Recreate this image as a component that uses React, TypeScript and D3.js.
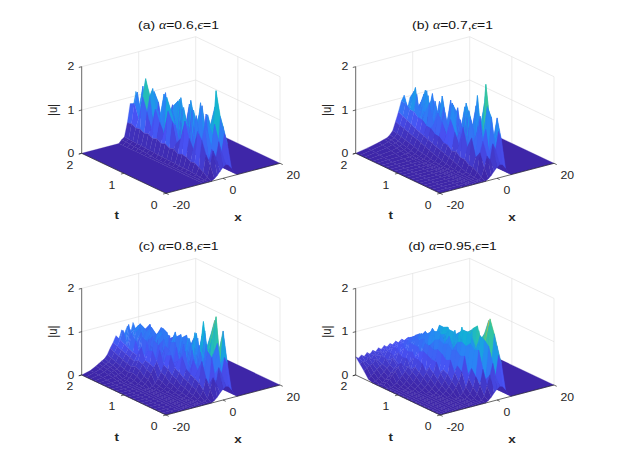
import React from "react";
import * as d3 from "d3";

// ---------- data ----------
const tGrid = [0, 0.1, 0.2, 0.3, 0.4, 0.5, 0.6, 0.7, 0.8, 0.9, 1.0, 1.1, 1.2, 1.3, 1.4, 1.5, 1.6, 1.7, 1.8, 1.9, 2.0];
const xTickVals = [-20, 0, 20];
const tTickVals = [0, 1, 2];
const zTickVals = [0, 1, 2];
const panelTags = ["(a)", "(b)", "(c)", "(d)"];
const alphaVals = ["0.6", "0.7", "0.8", "0.95"];
const epsVals = ["1", "1", "1", "1"];

// (a) alpha = 0.6   (rows: t = 0 ... 2, columns: xA)
const xA = [-7, -6, -5, -4, -3, -2, -1, 0, 1, 2, 3, 4, 5];
const uA = [
  [0, 0, 0, 0, 0.04, 0.1, 0.18, 0.25, 0.3, 0.28, 0.18, 0.06, 0],
  [0, 0, 0, 0.05, 0.3, 0.62, 0.45, 0.8, 0.55, 0.95, 0.7, 0.15, 0],
  [0, 0, 0.02, 0.12, 0.5, 0.35, 0.6, 1.15, 0.4, 1.3, 1.05, 0.2, 0],
  [0, 0, 0.03, 0.18, 0.8, 1.1, 0.95, 0.3, 0.85, 1.85, 0.6, 0.18, 0],
  [0, 0, 0.04, 0.24, 0.95, 0.5, 0.25, 1.3, 1.0, 0.45, 1.4, 0.15, 0],
  [0, 0, 0.05, 0.22, 0.5, 1.25, 0.8, 0.55, 0.35, 1.2, 0.95, 0.12, 0],
  [0, 0, 0.05, 0.28, 0.7, 0.3, 1.1, 0.9, 1.45, 0.5, 0.7, 0.1, 0],
  [0, 0, 0.05, 0.3, 1.05, 0.9, 0.4, 1.25, 0.6, 1.1, 1.3, 0.1, 0],
  [0, 0, 0.06, 0.26, 0.6, 1.3, 0.7, 0.25, 1.2, 0.8, 0.5, 0.08, 0],
  [0, 0, 0.06, 0.33, 0.45, 0.45, 1.2, 0.85, 0.4, 1.35, 1.0, 0.08, 0],
  [0, 0, 0.06, 0.3, 0.9, 0.8, 0.3, 1.4, 0.9, 0.35, 1.2, 0.07, 0],
  [0, 0, 0.07, 0.36, 1.1, 1.1, 0.95, 0.5, 1.3, 0.75, 0.6, 0.06, 0],
  [0, 0, 0.07, 0.32, 0.55, 1.35, 0.45, 1.0, 0.55, 1.2, 0.9, 0.06, 0],
  [0, 0.02, 0.08, 0.38, 0.75, 0.5, 1.2, 0.35, 0.8, 1.05, 0.4, 0.05, 0],
  [0, 0.03, 0.08, 0.34, 1.0, 0.95, 0.6, 1.3, 1.1, 0.45, 1.0, 0.05, 0],
  [0, 0.04, 0.09, 0.4, 0.5, 0.4, 0.85, 0.7, 0.3, 1.25, 0.65, 0.05, 0],
  [0, 0.05, 0.1, 0.37, 0.85, 1.2, 1.35, 0.45, 1.0, 0.6, 0.85, 0.05, 0],
  [0, 0.05, 0.1, 0.42, 1.15, 1.55, 0.5, 0.9, 1.2, 0.95, 0.45, 0.04, 0],
  [0, 0.06, 0.11, 0.4, 0.6, 0.6, 1.05, 0.4, 0.75, 1.1, 0.7, 0.04, 0],
  [0, 0.07, 0.11, 0.45, 0.9, 1.15, 0.7, 1.25, 0.5, 0.8, 0.55, 0.04, 0],
  [0, 0.07, 0.12, 0.43, 0.85, 0.75, 1.1, 0.65, 0.95, 0.6, 0.5, 0.04, 0],
];

// (b) alpha = 0.7
const xB = [-20, -16, -12, -10, -9, -8, -7, -6, -5, -4, -3, -2, -1, 0, 1, 2, 3, 4, 5];
const uB = [
  [0, 0, 0, 0, 0, 0, 0, 0, 0, 0, 0.04, 0.1, 0.18, 0.25, 0.3, 0.28, 0.18, 0.06, 0],
  [0, 0, 0, 0, 0, 0, 0, 0, 0, 0.05, 0.25, 0.5, 0.4, 0.75, 0.6, 1.0, 0.8, 0.18, 0],
  [0, 0, 0, 0, 0, 0, 0, 0, 0.02, 0.12, 0.55, 0.8, 1.05, 0.5, 1.3, 0.7, 1.25, 0.22, 0],
  [0, 0, 0, 0, 0, 0, 0, 0, 0.03, 0.18, 0.4, 1.1, 0.6, 0.35, 1.5, 1.1, 0.65, 0.2, 0],
  [0, 0, 0, 0, 0, 0, 0, 0.01, 0.05, 0.2, 0.8, 0.7, 0.3, 1.25, 0.8, 1.95, 1.3, 0.18, 0],
  [0, 0, 0, 0, 0, 0, 0, 0.02, 0.08, 0.27, 0.55, 1.2, 0.95, 0.45, 1.1, 0.6, 1.45, 0.15, 0],
  [0, 0, 0, 0, 0, 0, 0.01, 0.03, 0.12, 0.28, 0.95, 0.45, 1.3, 0.8, 0.4, 1.6, 0.85, 0.12, 0],
  [0, 0, 0, 0, 0, 0, 0.01, 0.05, 0.16, 0.36, 0.5, 0.9, 0.45, 1.2, 1.05, 0.5, 1.3, 0.1, 0],
  [0, 0, 0, 0, 0, 0, 0.02, 0.07, 0.2, 0.33, 0.75, 0.6, 1.0, 0.35, 1.35, 0.9, 0.7, 0.1, 0],
  [0, 0, 0, 0, 0, 0.01, 0.03, 0.1, 0.24, 0.42, 1.0, 1.3, 0.55, 0.95, 0.5, 1.2, 1.05, 0.08, 0],
  [0, 0, 0, 0, 0, 0.01, 0.04, 0.13, 0.27, 0.43, 0.6, 0.7, 1.25, 0.4, 1.15, 0.6, 0.85, 0.08, 0],
  [0, 0, 0, 0, 0, 0.02, 0.06, 0.16, 0.3, 0.52, 0.85, 0.95, 0.3, 1.3, 0.8, 1.0, 0.5, 0.07, 0],
  [0, 0, 0, 0, 0.01, 0.03, 0.08, 0.2, 0.34, 0.53, 1.0, 0.5, 1.1, 0.65, 0.45, 1.15, 0.75, 0.06, 0],
  [0, 0, 0, 0.01, 0.02, 0.04, 0.1, 0.24, 0.38, 0.62, 0.7, 1.0, 0.75, 1.3, 0.9, 0.5, 0.95, 0.06, 0],
  [0, 0, 0.01, 0.02, 0.03, 0.06, 0.13, 0.28, 0.42, 0.63, 1.15, 0.55, 1.15, 0.4, 1.0, 0.85, 0.55, 0.05, 0],
  [0, 0.01, 0.02, 0.04, 0.05, 0.08, 0.16, 0.32, 0.46, 0.72, 0.9, 1.25, 0.5, 1.1, 0.6, 1.05, 0.7, 0.05, 0],
  [0, 0.02, 0.04, 0.06, 0.08, 0.11, 0.19, 0.35, 0.5, 0.73, 0.6, 0.85, 1.3, 0.55, 1.2, 0.45, 0.6, 0.05, 0],
  [0, 0.03, 0.06, 0.09, 0.11, 0.14, 0.22, 0.38, 0.55, 0.82, 1.2, 0.5, 0.9, 1.25, 0.7, 0.95, 0.5, 0.04, 0],
  [0, 0.04, 0.08, 0.12, 0.14, 0.17, 0.25, 0.42, 0.6, 0.83, 1.05, 1.3, 0.6, 0.85, 1.1, 0.55, 0.65, 0.04, 0],
  [0, 0.05, 0.1, 0.14, 0.16, 0.2, 0.28, 0.45, 0.65, 0.92, 0.75, 0.9, 1.15, 0.6, 0.8, 0.9, 0.45, 0.04, 0],
  [0, 0.05, 0.11, 0.15, 0.17, 0.22, 0.3, 0.5, 0.7, 0.93, 1.05, 0.7, 0.95, 0.8, 0.6, 0.7, 0.5, 0.04, 0],
];

// (c) alpha = 0.8  (rows are right-aligned to the x columns; missing leading values are 0)
const xC = [-20, -17, -15, -14, -13, -12, -11, -10, -9, -8, -7, -6, -5, -4, -3, -2, -1, 0, 1, 2, 3, 4, 5];
const uC = [
  [0.04, 0.1, 0.18, 0.25, 0.3, 0.28, 0.18, 0.06, 0],
  [0.02, 0.06, 0.25, 0.5, 0.35, 0.7, 0.55, 0.9, 0.75, 0.2, 0],
  [0.02, 0.08, 0.2, 0.45, 0.3, 0.9, 0.5, 1.2, 0.7, 1.45, 0.25, 0],
  [0.02, 0.07, 0.18, 0.32, 0.8, 0.45, 1.0, 0.35, 0.9, 1.75, 0.95, 0.22, 0],
  [0.03, 0.1, 0.22, 0.38, 0.55, 0.95, 0.4, 1.1, 0.6, 1.2, 1.6, 0.2, 0],
  [0.02, 0.06, 0.15, 0.28, 0.42, 0.75, 0.5, 1.05, 0.45, 1.35, 0.7, 1.2, 0.18, 0],
  [0.03, 0.08, 0.18, 0.32, 0.5, 0.4, 0.9, 0.6, 1.15, 0.5, 1.5, 0.85, 0.15, 0],
  [0.02, 0.06, 0.14, 0.26, 0.4, 0.75, 0.85, 0.4, 1.0, 0.55, 1.2, 0.65, 1.1, 0.12, 0],
  [0.03, 0.08, 0.17, 0.3, 0.45, 0.6, 0.35, 0.95, 0.5, 1.05, 0.8, 1.15, 0.6, 0.1, 0],
  [0.02, 0.06, 0.14, 0.26, 0.4, 0.7, 0.5, 0.85, 0.45, 0.95, 0.6, 1.0, 0.5, 0.95, 0.1, 0],
  [0.03, 0.08, 0.17, 0.3, 0.45, 0.65, 0.75, 0.4, 0.9, 0.5, 1.05, 0.45, 1.0, 0.7, 0.08, 0],
  [0.02, 0.06, 0.14, 0.26, 0.38, 0.5, 0.75, 0.3, 0.8, 0.55, 0.85, 0.4, 0.95, 0.65, 0.9, 0.55, 0.08, 0],
  [0.03, 0.08, 0.17, 0.3, 0.42, 0.7, 0.45, 0.8, 0.5, 0.9, 0.35, 0.95, 0.6, 1.0, 0.5, 0.8, 0.07, 0],
  [0.02, 0.06, 0.14, 0.26, 0.38, 0.45, 0.65, 0.5, 0.85, 0.4, 0.75, 0.95, 0.5, 0.9, 0.7, 0.85, 0.6, 0.07, 0],
  [0.03, 0.08, 0.17, 0.3, 0.42, 0.7, 0.4, 0.8, 0.55, 0.9, 0.45, 0.8, 0.95, 0.55, 0.9, 0.45, 0.75, 0.06, 0],
  [0, 0, 0.01, 0.02, 0.03, 0.06, 0.13, 0.25, 0.36, 0.48, 0.5, 0.85, 0.4, 0.75, 0.9, 0.5, 0.85, 0.6, 0.95, 0.55, 0.65, 0.06, 0],
  [0, 0.02, 0.04, 0.06, 0.08, 0.1, 0.16, 0.28, 0.4, 0.5, 0.75, 0.55, 0.9, 0.45, 0.7, 0.95, 0.5, 0.8, 0.65, 0.9, 0.5, 0.05, 0],
  [0, 0.03, 0.06, 0.09, 0.12, 0.14, 0.2, 0.32, 0.44, 0.55, 0.85, 0.5, 0.65, 0.95, 0.5, 0.8, 0.7, 0.9, 0.55, 0.7, 0.6, 0.05, 0],
  [0, 0.04, 0.08, 0.12, 0.15, 0.18, 0.24, 0.36, 0.48, 0.6, 0.55, 0.9, 0.5, 0.8, 0.95, 0.6, 0.85, 0.5, 0.9, 0.65, 0.5, 0.05, 0],
  [0, 0.05, 0.1, 0.14, 0.18, 0.21, 0.28, 0.4, 0.52, 0.65, 0.85, 0.6, 0.95, 0.55, 0.8, 0.7, 0.9, 0.6, 0.75, 0.55, 0.55, 0.04, 0],
  [0, 0.05, 0.12, 0.16, 0.2, 0.24, 0.32, 0.45, 0.56, 0.7, 0.6, 0.8, 0.7, 0.85, 0.65, 0.9, 0.7, 0.8, 0.65, 0.6, 0.5, 0.04, 0],
];

// (d) alpha = 0.95  (rows right-aligned to the x columns)
const xD = [-20, -19, -18, -17, -16, -15, -14, -13, -12, -11, -10, -9, -8, -7, -6, -5, -4, -3, -2, -1, 0, 1, 2, 3, 4, 5];
const uD = [
  [0.04, 0.1, 0.18, 0.25, 0.3, 0.28, 0.18, 0.06, 0],
  [0.02, 0.1, 0.3, 0.55, 0.8, 0.5, 0.95, 0.75, 0.18, 0],
  [0.03, 0.12, 0.3, 0.65, 0.4, 1.15, 0.7, 1.4, 1.1, 0.22, 0],
  [0.03, 0.1, 0.22, 0.45, 1.05, 0.5, 1.25, 0.8, 1.7, 1.3, 0.22, 0],
  [0.03, 0.1, 0.2, 0.38, 0.6, 1.0, 0.65, 1.3, 0.9, 1.15, 1.6, 0.2, 0],
  [0.03, 0.09, 0.18, 0.3, 0.5, 0.85, 0.4, 1.1, 0.7, 0.95, 1.35, 0.8, 1.25, 0.18, 0],
  [0.03, 0.09, 0.17, 0.28, 0.45, 0.6, 0.8, 0.55, 1.0, 0.6, 1.2, 0.85, 1.4, 1.05, 0.16, 0],
  [0.03, 0.08, 0.16, 0.27, 0.4, 0.7, 0.35, 0.9, 0.5, 1.05, 0.75, 1.25, 0.7, 1.3, 0.9, 0.14, 0],
  [0.03, 0.08, 0.15, 0.26, 0.38, 0.45, 0.65, 0.55, 0.85, 0.45, 1.0, 0.7, 1.2, 0.8, 1.05, 1.2, 0.12, 0],
  [0.03, 0.08, 0.15, 0.25, 0.36, 0.6, 0.35, 0.75, 0.5, 0.95, 0.6, 0.8, 1.1, 0.65, 1.25, 0.85, 1.1, 0.12, 0],
  [0.03, 0.08, 0.14, 0.24, 0.34, 0.45, 0.6, 0.5, 0.8, 0.45, 0.9, 0.6, 1.05, 0.7, 1.15, 0.8, 1.0, 1.1, 0.1, 0],
  [0.03, 0.07, 0.14, 0.23, 0.32, 0.5, 0.3, 0.65, 0.45, 0.75, 0.55, 0.95, 0.6, 0.85, 1.1, 0.7, 1.05, 0.8, 1.0, 0.1, 0],
  [0.03, 0.07, 0.13, 0.22, 0.3, 0.4, 0.55, 0.42, 0.7, 0.5, 0.8, 0.55, 0.9, 0.65, 1.0, 0.7, 0.95, 1.05, 0.75, 0.9, 0.09, 0],
  [0.03, 0.07, 0.13, 0.21, 0.29, 0.38, 0.3, 0.55, 0.4, 0.65, 0.5, 0.8, 0.6, 0.75, 0.95, 0.65, 1.0, 0.75, 0.9, 1.05, 0.85, 0.09, 0],
  [0.03, 0.07, 0.12, 0.2, 0.28, 0.36, 0.42, 0.35, 0.5, 0.4, 0.62, 0.48, 0.7, 0.55, 0.85, 0.6, 0.9, 0.7, 0.95, 0.75, 0.85, 1.0, 0.8, 0.08, 0],
  [0, 0, 0.03, 0.07, 0.12, 0.19, 0.27, 0.34, 0.32, 0.48, 0.4, 0.58, 0.45, 0.7, 0.52, 0.78, 0.6, 0.85, 0.65, 0.9, 0.7, 0.8, 1.0, 0.75, 0.08, 0],
  [0, 0.03, 0.07, 0.12, 0.19, 0.26, 0.32, 0.45, 0.38, 0.55, 0.44, 0.62, 0.5, 0.7, 0.56, 0.78, 0.62, 0.85, 0.66, 0.8, 0.72, 0.9, 0.7, 0.75, 0.07, 0],
  [0.04, 0.1, 0.16, 0.22, 0.28, 0.3, 0.42, 0.36, 0.5, 0.42, 0.58, 0.48, 0.65, 0.52, 0.7, 0.58, 0.75, 0.62, 0.78, 0.65, 0.8, 0.66, 0.72, 0.68, 0.06, 0],
  [0.18, 0.24, 0.28, 0.3, 0.38, 0.34, 0.44, 0.38, 0.5, 0.43, 0.55, 0.46, 0.6, 0.52, 0.63, 0.55, 0.68, 0.58, 0.7, 0.6, 0.66, 0.62, 0.65, 0.58, 0.05, 0],
  [0.3, 0.34, 0.32, 0.4, 0.35, 0.44, 0.38, 0.48, 0.42, 0.52, 0.45, 0.55, 0.48, 0.58, 0.5, 0.6, 0.54, 0.62, 0.56, 0.6, 0.55, 0.58, 0.52, 0.48, 0.05, 0],
  [0.42, 0.37, 0.43, 0.38, 0.45, 0.4, 0.47, 0.42, 0.49, 0.44, 0.51, 0.46, 0.52, 0.48, 0.54, 0.49, 0.55, 0.5, 0.54, 0.52, 0.53, 0.5, 0.48, 0.44, 0.04, 0],
];

// ---------- styling / geometry ----------
const PARULA_POS = [0, 0.125, 0.25, 0.375, 0.5, 0.625, 0.75, 0.875, 1];
const PARULA = ["#3e26a8", "#4852f4", "#2887f5", "#12b1d6", "#32c5a0", "#81cc59", "#d7ba38", "#fec438", "#f9fb14"];
const COLOR_GAMMA = 1.8;

const W = 623;
const H = 467;
const ORIGIN = [166, 193.3];
const VX = [114, -30];
const VT = [-84.3, -40];
const VZ = [0, -86.6];
const OFFSETS = [
  [0, 0],
  [274, 0],
  [0, 221.7],
  [274, 221.7],
];
const SX = 1.2;
const SANS = "'Liberation Sans', Arial, Helvetica, sans-serif";
const SERIF = "'Liberation Serif', 'DejaVu Serif', serif";
const AXIS = "#262626";
const GRID = "#dedede";

const xN = d3.scaleLinear().domain([-20, 20]).range([0, 1]);
const tN = d3.scaleLinear().domain([0, 2]).range([0, 1]);
const zN = d3.scaleLinear().domain([0, 2]).range([0, 1]);

type P = [number, number];

function makeProj(ox: number, oy: number) {
  return (x: number, t: number, z: number): P => {
    const a = xN(x), b = tN(t), c = zN(z);
    return [
      ORIGIN[0] + ox + a * VX[0] + b * VT[0] + c * VZ[0],
      ORIGIN[1] + oy + a * VX[1] + b * VT[1] + c * VZ[1],
    ];
  };
}

function alignRow(row: number[], n: number): number[] {
  if (row.length === n) return row;
  if (row.length > n) return row.slice(row.length - n);
  return new Array(n - row.length).fill(0).concat(row);
}

const poly = (pts: P[]) => "M" + pts.map((p) => p[0].toFixed(2) + "," + p[1].toFixed(2)).join("L") + "Z";

function Panel({ idx, xs, u }: { idx: number; xs: number[]; u: number[][] }) {
  const [ox, oy] = OFFSETS[idx];
  const proj = makeProj(ox, oy);
  const rows = u.map((r) => alignRow(r, xs.length));
  const zmax = d3.max(rows.flat()) || 1;
  const level = d3.scalePow().exponent(COLOR_GAMMA).domain([0, zmax]).range([0, 1]).clamp(true);
  const pal = d3.scaleLinear<string>().domain(PARULA_POS).range(PARULA).interpolate(d3.interpolateRgb).clamp(true);
  const color = (v: number) => pal(level(v));

  const gridLines: P[][] = [];
  zTickVals.forEach((z) => {
    if (z === 0) return;
    gridLines.push([proj(-20, 2, z), proj(20, 2, z)]);
    gridLines.push([proj(20, 2, z), proj(20, 0, z)]);
  });
  xTickVals.forEach((x) => {
    if (x === -20) return;
    gridLines.push([proj(x, 2, 0), proj(x, 2, 2)]);
  });
  tTickVals.forEach((t) => {
    if (t === 2) return;
    gridLines.push([proj(20, t, 0), proj(20, t, 2)]);
  });

  const floors: P[][] = [];
  const x0 = xs[0], x1 = xs[xs.length - 1];
  if (x0 > -20) floors.push([proj(-20, 0, 0), proj(x0, 0, 0), proj(x0, 2, 0), proj(-20, 2, 0)]);
  if (x1 < 20) floors.push([proj(x1, 0, 0), proj(20, 0, 0), proj(20, 2, 0), proj(x1, 2, 0)]);

  const cells: { d: string; fill: string; depth: number }[] = [];
  for (let i = 0; i < tGrid.length - 1; i++) {
    for (let j = 0; j < xs.length - 1; j++) {
      const z00 = rows[i][j], z01 = rows[i][j + 1], z11 = rows[i + 1][j + 1], z10 = rows[i + 1][j];
      const pts: P[] = [
        proj(xs[j], tGrid[i], z00),
        proj(xs[j + 1], tGrid[i], z01),
        proj(xs[j + 1], tGrid[i + 1], z11),
        proj(xs[j], tGrid[i + 1], z10),
      ];
      const mean = (z00 + z01 + z11 + z10) / 4;
      const depth = 0.739 * xN((xs[j] + xs[j + 1]) / 2) + tN((tGrid[i] + tGrid[i + 1]) / 2);
      cells.push({ d: poly(pts), fill: color(mean), depth });
    }
  }
  cells.sort((a, b) => b.depth - a.depth);

  const zAxis = [proj(-20, 2, 0), proj(-20, 2, 2)];
  const tAxis = [proj(-20, 2, 0), proj(-20, 0, 0)];
  const xAxis = [proj(-20, 0, 0), proj(20, 0, 0)];
  const tickLen = 3;
  const dirX: P = [-VX[0] / Math.hypot(VX[0], VX[1]), -VX[1] / Math.hypot(VX[0], VX[1])];
  const dirT: P = [-VT[0] / Math.hypot(VT[0], VT[1]), -VT[1] / Math.hypot(VT[0], VT[1])];

  const txt = (x: number, y: number) => `translate(${x.toFixed(2)},${y.toFixed(2)}) scale(${SX},1)`;
  const titleX = ORIGIN[0] + ox + 12.5;
  const titleY = 28.7 + oy;
  const xLab = proj(0, 0, 0);
  const tLab = proj(-20, 1, 0);
  const zLab = proj(-20, 2, 1);

  return (
    <g>
      {gridLines.map((l, k) => (
        <line key={"g" + k} x1={l[0][0]} y1={l[0][1]} x2={l[1][0]} y2={l[1][1]} stroke={GRID} strokeWidth={0.6} />
      ))}
      {floors.map((f, k) => (
        <path key={"f" + k} d={poly(f)} fill={PARULA[0]} stroke={PARULA[0]} strokeWidth={0.3} />
      ))}
      {cells.map((c, k) => (
        <path key={"c" + k} d={c.d} fill={c.fill} stroke={c.fill} strokeWidth={0.3} strokeLinejoin="round" />
      ))}
      {[zAxis, tAxis, xAxis].map((l, k) => (
        <line key={"a" + k} x1={l[0][0]} y1={l[0][1]} x2={l[1][0]} y2={l[1][1]} stroke={AXIS} strokeWidth={0.7} />
      ))}
      {zTickVals.map((z) => {
        const p = proj(-20, 2, z);
        return (
          <g key={"zt" + z}>
            <line x1={p[0]} y1={p[1]} x2={p[0] + dirX[0] * tickLen} y2={p[1] + dirX[1] * tickLen} stroke={AXIS} strokeWidth={0.7} />
            <text transform={txt(p[0] - 7.5, p[1])} dy="0.35em" textAnchor="end" fontFamily={SANS} fontSize={10.2} fill={AXIS}>
              {z}
            </text>
          </g>
        );
      })}
      {tTickVals.map((t) => {
        const p = proj(-20, t, 0);
        return (
          <g key={"tt" + t}>
            <line x1={p[0]} y1={p[1]} x2={p[0] + dirX[0] * tickLen} y2={p[1] + dirX[1] * tickLen} stroke={AXIS} strokeWidth={0.7} />
            <text transform={txt(p[0] - 8.5, p[1] + 11.7)} dy="0.35em" textAnchor="end" fontFamily={SANS} fontSize={10.2} fill={AXIS}>
              {t}
            </text>
          </g>
        );
      })}
      {xTickVals.map((x) => {
        const p = proj(x, 0, 0);
        return (
          <g key={"xt" + x}>
            <line x1={p[0]} y1={p[1]} x2={p[0] + dirT[0] * tickLen} y2={p[1] + dirT[1] * tickLen} stroke={AXIS} strokeWidth={0.7} />
            <text transform={txt(p[0] + 6.5, p[1] + 12.5)} dy="0.35em" textAnchor="start" fontFamily={SANS} fontSize={10.2} fill={AXIS}>
              {x}
            </text>
          </g>
        );
      })}
      <text transform={txt(xLab[0] + 15, xLab[1] + 38.7)} dy="0.35em" textAnchor="middle" fontFamily={SANS} fontSize={11.2} fontWeight="bold" fill={AXIS}>
        x
      </text>
      <text transform={txt(tLab[0] - 7.2, tLab[1] + 41.7)} dy="0.35em" textAnchor="middle" fontFamily={SANS} fontSize={11.2} fontWeight="bold" fill={AXIS}>
        t
      </text>
      <text
        transform={`translate(${(zLab[0] - 29.7).toFixed(2)},${zLab[1].toFixed(2)}) scale(${SX},1) rotate(-90)`}
        dy="0.35em"
        textAnchor="middle"
        fontFamily={SANS}
        fontSize={11.2}
        fill={AXIS}
      >
        |u|
      </text>
      <text transform={txt(titleX, titleY)} textAnchor="middle" fontFamily={SANS} fontSize={11.6} fontWeight="normal" fill="#111">
        {panelTags[idx] + " "}
        <tspan fontFamily={SERIF} fontStyle="italic">α</tspan>
        {"=" + alphaVals[idx] + ","}
        <tspan fontFamily={SERIF} fontStyle="italic">ϵ</tspan>
        {"=" + epsVals[idx]}
      </text>
    </g>
  );
}

const panelData = [
  { xs: xA, u: uA },
  { xs: xB, u: uB },
  { xs: xC, u: uC },
  { xs: xD, u: uD },
];

export default function App() {
  return (
    <svg
      width={W}
      height={H}
      viewBox={`0 0 ${W} ${H}`}
      style={{ position: "absolute", left: 0, top: 0, background: "#fff" }}
    >
      <rect x={0} y={0} width={W} height={H} fill="#fff" />
      {panelData.map((p, i) => (
        <Panel key={i} idx={i} xs={p.xs} u={p.u} />
      ))}
    </svg>
  );
}
